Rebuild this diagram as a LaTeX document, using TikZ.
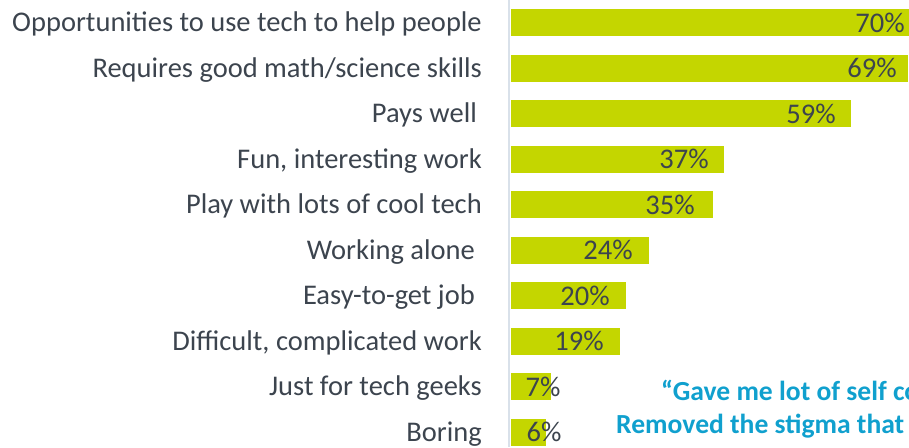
\documentclass[tikz,border=0pt]{standalone}
\usepackage{fontspec}
\setmainfont{Carlito}
\definecolor{barc}{RGB}{196,214,0}
\definecolor{labc}{RGB}{60,68,78}
\definecolor{quotec}{RGB}{16,160,206}
\definecolor{axisc}{RGB}{217,225,234}
\begin{document}
\begin{tikzpicture}[x=1pt,y=-1pt,
  bar/.style={fill=barc,draw=none},
  cat/.style={anchor=base east,inner sep=0pt,text=labc,font=\fontsize{28.5}{31}\selectfont},
  val/.style={anchor=base,inner sep=0pt,text=labc,font=\fontsize{28.5}{31}\selectfont},
  quote/.style={anchor=base west,inner sep=0pt,text=quotec,font=\bfseries\fontsize{27.6}{30}\selectfont}]
\useasboundingbox (0,0) rectangle (909,447);
\clip (0,0) rectangle (909,447);
\draw[axisc,line width=2pt] (509,0) -- (509,447);
% bars: value -> width 5.76 px per percent
\foreach \i/\v/\lab/\lx/\cx in {
 0/70/{Opportunities to use tech to help people}/482/880,
 1/69/{Requires good math/science skills}/482/872,
 2/59/{Pays well}/477/811,
 3/37/{Fun, interesting work}/482/684,
 4/35/{Play with lots of cool tech}/482/670,
 5/24/{Working alone}/475/608,
 6/20/{Easy-to-get job}/475/585,
 7/19/{Difficult, complicated work}/482/579,
 8/7/{Just for tech geeks}/482/543,
 9/6/{Boring}/482/544}{
  \pgfmathsetmacro{\top}{9+45.55*\i}
  \pgfmathsetmacro{\rt}{511+5.76*\v}
  \fill[barc] (511,\top) rectangle (\rt,\top+27);
  \node[cat] (c\i) at (\lx,\top+22.5) {\lab};
  \node[val] (v\i) at (\cx,\top+23) {\v\%};
}
\node[quote] (q1) at (661,400) {“Gave me lot of self co};
\node[quote] (q2) at (616,433) {Removed the stigma that};
\end{tikzpicture}
\end{document}
